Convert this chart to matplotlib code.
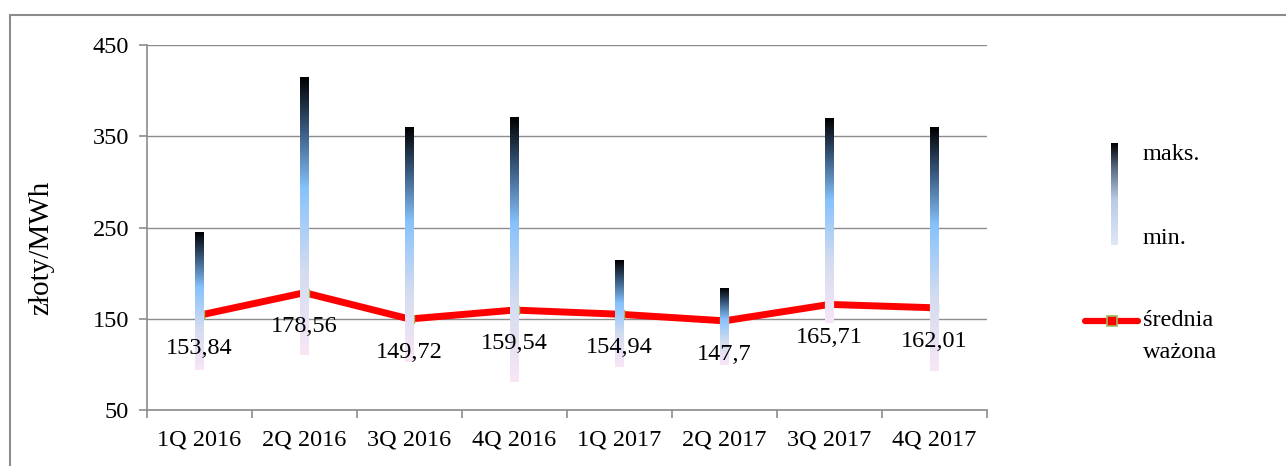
import numpy as np
import matplotlib.pyplot as plt
from matplotlib.colors import LinearSegmentedColormap
from matplotlib.patches import Rectangle
from matplotlib.lines import Line2D

quarters = ['1Q 2016', '2Q 2016', '3Q 2016', '4Q 2016', '1Q 2017', '2Q 2017', '3Q 2017', '4Q 2017']
maks = [245, 414, 360, 371, 214, 183, 369, 360]
mins = [94, 110, 103, 81, 97, 99, 145, 93]
srednia = [153.84, 178.56, 149.72, 159.54, 154.94, 147.7, 165.71, 162.01]
etykiety = ['153,84', '178,56', '149,72', '159,54', '154,94', '147,7', '165,71', '162,01']

plt.rcParams['font.family'] = ['Liberation Serif', 'DejaVu Serif']
fs = 17.5

bar_cmap = LinearSegmentedColormap.from_list('hl', [
    (0.0, '#f8e6f6'), (0.3, '#d4dcf0'), (0.6, '#86c2fc'),
    (0.8, '#3d5f86'), (1.0, '#000000')])
leg_cmap = LinearSegmentedColormap.from_list('leg', [
    (0.0, '#dfe8f6'), (0.45, '#b8c9e8'), (0.75, '#5c6c86'), (1.0, '#000000')])
grad = np.linspace(0, 1, 256).reshape(-1, 1)

fig = plt.figure(figsize=(12.86, 4.66), dpi=100)
fig.patches.append(Rectangle((10 / 1286, -0.1), 1.2, 0.1 + (466 - 15) / 466,
                             transform=fig.transFigure, fill=False,
                             edgecolor='#8c8c8c', linewidth=1.5))

ax = fig.add_axes([147 / 1286, 56 / 466, 840 / 1286, 365 / 466])
x = np.arange(len(quarters))
w = 0.08

ax.plot(x, srednia, color='#ff0000', linewidth=5, zorder=2,
        marker='s', markersize=6, markerfacecolor='#ff0000',
        markeredgecolor='#9bbb59', markeredgewidth=1)

for xi, lo, hi in zip(x, mins, maks):
    ax.imshow(grad, cmap=bar_cmap, origin='lower', aspect='auto',
              extent=(xi - w / 2, xi + w / 2, lo, hi), zorder=3)

for xi, v, t in zip(x, srednia, etykiety):
    ax.annotate(t, (xi, v), xytext=(0, -24), textcoords='offset points',
                ha='center', va='center', fontsize=fs, zorder=4)

ax.set_xlim(-0.5, len(quarters) - 0.5)
ax.set_ylim(50, 450)
ax.set_yticks([50, 150, 250, 350, 450])
ax.yaxis.grid(True, color='#8c8c8c', linewidth=1)
ax.set_axisbelow(True)
ax.set_xticks(x)
ax.set_xticklabels(quarters)
ax.set_xticks(np.arange(-0.5, len(quarters)), minor=True)
ax.tick_params(axis='x', which='major', length=0, pad=14, labelsize=fs)
ax.tick_params(axis='x', which='minor', length=6, color='#8c8c8c', width=1.2)
ax.tick_params(axis='y', length=6, color='#8c8c8c', width=1.2, pad=7, labelsize=fs)
for s in ['top', 'right']:
    ax.spines[s].set_visible(False)
for s in ['left', 'bottom']:
    ax.spines[s].set_color('#8c8c8c')
    ax.spines[s].set_linewidth(1.2)
ax.set_ylabel('złoty/MWh', fontsize=21)
ax.yaxis.set_label_coords(-0.110, 0.444)

# legenda
lax = fig.add_axes([1111 / 1286, (466 - 245) / 466, 7 / 1286, 102 / 466])
lax.imshow(grad, cmap=leg_cmap, origin='lower', aspect='auto')
lax.axis('off')
fig.text(1143 / 1286, (466 - 155) / 466, 'maks.', fontsize=fs, va='center')
fig.text(1143 / 1286, (466 - 238) / 466, 'min.', fontsize=fs, va='center')
ly = (466 - 321) / 466
fig.lines.append(Line2D([1085 / 1286, 1138 / 1286], [ly, ly], transform=fig.transFigure,
                        color='#ff0000', linewidth=4.5, solid_capstyle='round'))
fig.lines.append(Line2D([1112 / 1286], [ly], transform=fig.transFigure, marker='s',
                        markersize=7, markerfacecolor='#ff0000',
                        markeredgecolor='#9bbb59', markeredgewidth=1.2))
fig.text(1143 / 1286, (466 - 321) / 466, 'średnia', fontsize=fs, va='center')
fig.text(1143 / 1286, (466 - 353) / 466, 'ważona', fontsize=fs, va='center')

fig.savefig('out.png', dpi=100)
